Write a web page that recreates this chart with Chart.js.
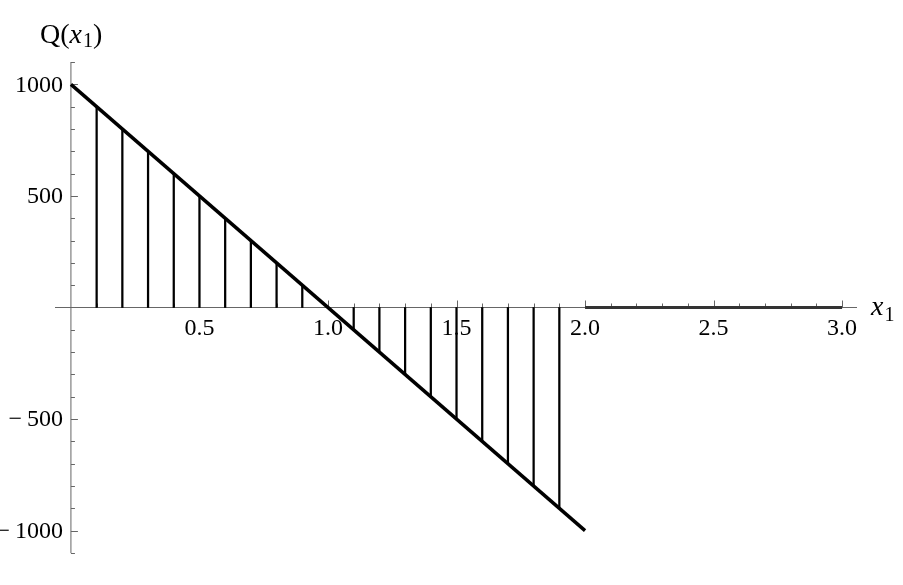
<!DOCTYPE html>
<html>
<head>
<meta charset="utf-8">
<script src="https://cdn.jsdelivr.net/npm/chart.js@4.4.1/dist/chart.umd.min.js"></script>
<style>
  body { margin: 0; background: #fff; }
  #wrap { width: 903px; height: 585px; }
</style>
</head>
<body>
<div id="wrap"><canvas id="chart" width="903" height="585"></canvas></div>
<script>
// stems (sampled values of Q between 0 and 2)
const stemX = [0.1, 0.2, 0.3, 0.4, 0.5, 0.6, 0.7, 0.8, 0.9, 1.0, 1.1, 1.2, 1.3, 1.4, 1.5, 1.6, 1.7, 1.8, 1.9];
const stemQ = [900, 800, 700, 600, 500, 400, 300, 200, 100, 0, -100, -200, -300, -400, -500, -600, -700, -800, -900];

// the sloped line and the flat piece after x1 = 2
const lineX = [0, 2];
const lineQ = [1000, -1000];
const flatX = [2, 3];
const flatQ = [0, 0];

// ticks
const xMajor = [0.5, 1.0, 1.5, 2.0, 2.5, 3.0];
const xTickLabels = ["0.5", "1.0", "1.5", "2.0", "2.5", "3.0"];
const xMinor = [0.1, 0.2, 0.3, 0.4, 0.6, 0.7, 0.8, 0.9, 1.1, 1.2, 1.3, 1.4, 1.6, 1.7, 1.8, 1.9, 2.1, 2.2, 2.3, 2.4, 2.6, 2.7, 2.8, 2.9];
const yMajor = [1000, 500, -500, -1000];
const yTickLabels = ["1000", "500", "\u2212\u2009500", "\u2212\u20091000"];
const yMinor = [1100, 900, 800, 700, 600, 400, 300, 200, 100, -100, -200, -300, -400, -600, -700, -800, -900, -1100];

const toPts = (xs, ys) => xs.map((x, i) => ({ x: x, y: ys[i] }));

const serif = '"Times New Roman", "Liberation Serif", Times, serif';
const axisColor = "#666";

// axes through the origin, Mathematica style
const axesPlugin = {
  id: "axes",
  beforeDatasetsDraw(chart) {
    const { ctx, chartArea, scales } = chart;
    const xs = scales.x, ys = scales.y;
    const x0 = xs.getPixelForValue(0);
    const y0 = ys.getPixelForValue(0);

    ctx.save();
    ctx.strokeStyle = axisColor;
    ctx.lineWidth = 1;
    ctx.beginPath();
    ctx.moveTo(chartArea.left, y0);
    ctx.lineTo(chartArea.right, y0);
    ctx.moveTo(x0, chartArea.top);
    ctx.lineTo(x0, chartArea.bottom);

    xMajor.forEach(v => {
      const p = Math.round(xs.getPixelForValue(v)) + 0.5;
      ctx.moveTo(p, y0);
      ctx.lineTo(p, y0 - 7);
    });
    xMinor.forEach(v => {
      const p = Math.round(xs.getPixelForValue(v)) + 0.5;
      ctx.moveTo(p, y0);
      ctx.lineTo(p, y0 - 4);
    });
    yMajor.forEach(v => {
      const p = Math.round(ys.getPixelForValue(v)) + 0.5;
      ctx.moveTo(x0, p);
      ctx.lineTo(x0 + 7, p);
    });
    yMinor.forEach(v => {
      const p = Math.round(ys.getPixelForValue(v)) + 0.5;
      ctx.moveTo(x0, p);
      ctx.lineTo(x0 + 4, p);
    });
    ctx.stroke();

    // tick labels
    ctx.fillStyle = "#000";
    ctx.font = "24px " + serif;
    ctx.textAlign = "center";
    ctx.textBaseline = "middle";
    xMajor.forEach((v, i) => {
      ctx.fillText(xTickLabels[i], xs.getPixelForValue(v), y0 + 21);
    });
    ctx.textAlign = "right";
    yMajor.forEach((v, i) => {
      ctx.fillText(yTickLabels[i], x0 - 8, ys.getPixelForValue(v) + 1);
    });

    // axis titles
    ctx.textAlign = "left";
    ctx.textBaseline = "alphabetic";
    const big = "28px " + serif, ital = "italic 28px " + serif, sub = "20px " + serif;
    let cx = 40;
    const by = 43;
    ctx.font = big; ctx.fillText("Q(", cx, by); cx += ctx.measureText("Q(").width;
    ctx.font = ital; ctx.fillText("x", cx, by); cx += ctx.measureText("x").width + 1;
    ctx.font = sub; ctx.fillText("1", cx, by + 4); cx += ctx.measureText("1").width;
    ctx.font = big; ctx.fillText(")", cx, by);

    cx = 871;
    const bx = 315;
    ctx.font = ital; ctx.fillText("x", cx, bx); cx += ctx.measureText("x").width + 1;
    ctx.font = sub; ctx.fillText("1", cx, bx + 6);
    ctx.restore();
  }
};

new Chart(document.getElementById("chart"), {
  data: {
    datasets: [
      {
        type: "bar",
        data: toPts(stemX, stemQ),
        backgroundColor: "#000",
        barThickness: 1.6,
        grouped: false,
        order: 3
      },
      {
        type: "line",
        data: toPts(lineX, lineQ),
        borderColor: "#000",
        borderWidth: 3.5,
        pointRadius: 0,
        order: 1
      },
      {
        type: "line",
        data: toPts(flatX, flatQ),
        borderColor: "#333",
        borderWidth: 3,
        pointRadius: 0,
        order: 2
      }
    ]
  },
  options: {
    responsive: false,
    animation: false,
    layout: { padding: { left: 55, right: 46, top: 62, bottom: 32 } },
    plugins: { legend: { display: false }, tooltip: { enabled: false } },
    scales: {
      x: { type: "linear", min: -0.062, max: 3.058, offset: false, display: false },
      y: { type: "linear", min: -1100, max: 1100, display: false }
    }
  },
  plugins: [axesPlugin]
});
</script>
</body>
</html>
